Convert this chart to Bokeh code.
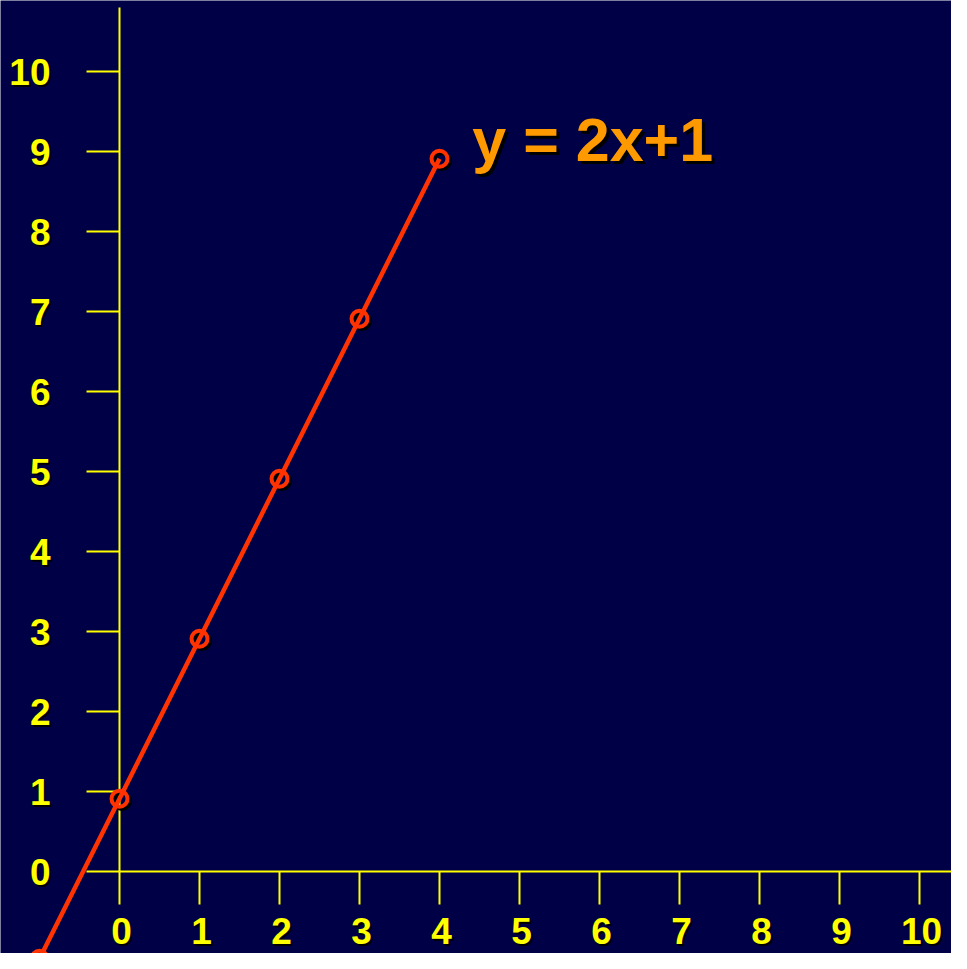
from bokeh.plotting import figure
from bokeh.models import ColumnDataSource, Range1d
from bokeh.transform import dodge
from bokeh.core.properties import value
from bokeh.embed import file_html
from bokeh.resources import INLINE

# ---- data ----
x_vals = [-1, 0, 1, 2, 3, 4]
y_vals = [-1.09, 0.91, 2.91, 4.91, 6.91, 8.91]
x_ticks = [0, 1, 2, 3, 4, 5, 6, 7, 8, 9, 10]
y_ticks = [0, 1, 2, 3, 4, 5, 6, 7, 8, 9, 10]
x_tick_labels = ["0", "1", "2", "3", "4", "5", "6", "7", "8", "9", "10"]
y_tick_labels = ["0", "1", "2", "3", "4", "5", "6", "7", "8", "9", "10"]
equation_label = ["y = 2x+1"]

BG = "#000046"
YELLOW = "#FFFF00"
RED = "#FF3300"
ORANGE = "#FF9900"
SHADOW = "#000000"
FONT = value("Liberation Sans")

p = figure(width=951, height=953,
           x_range=Range1d(-1.4875, 10.4), y_range=Range1d(-1.025, 10.8875),
           x_axis_type=None, y_axis_type=None,
           output_backend="svg", toolbar_location=None, min_border=0,
           background_fill_color=BG, border_fill_color=BG,
           outline_line_color=None)
p.grid.visible = False

# axis lines
p.segment(x0=[0], y0=[0], x1=[10.6], y1=[0], line_color=YELLOW, line_width=2)
p.segment(x0=[0], y0=[0], x1=[0], y1=[10.8], line_color=YELLOW, line_width=2)

xt = ColumnDataSource(dict(t=x_ticks, text=x_tick_labels))
yt = ColumnDataSource(dict(t=y_ticks, text=y_tick_labels))

# tick marks
p.segment(x0="t", x1="t", y0=0, y1=-0.4125, source=xt, line_color=YELLOW, line_width=2)
p.segment(y0="t", y1="t", x0=-0.4125, x1=0, source=yt, line_color=YELLOW, line_width=2)

# tick labels with shadow
for col, dx, dy in ((SHADOW, 2, 2), (YELLOW, 0, 0)):
    p.text(x=dodge("t", 0.025), y=-0.74, text="text", source=xt,
           text_color=col, text_font=FONT, text_font_style="bold",
           text_font_size="37px", text_align="center", text_baseline="alphabetic",
           x_offset=dx, y_offset=dy)
    p.text(x=-0.8625, y=dodge("t", 0.0), text="text", source=yt,
           text_color=col, text_font=FONT, text_font_style="bold",
           text_font_size="37px", text_align="right", text_baseline="alphabetic",
           x_offset=dx, y_offset=dy)

# data
pts = ColumnDataSource(dict(x=x_vals, y=y_vals))
p.scatter(x=dodge("x", 0.03), y=dodge("y", -0.03), source=pts, marker="circle",
          size=16, fill_color=None, line_color=SHADOW, line_width=4)
p.line(x="x", y="y", source=pts, line_color=RED, line_width=4.5)
p.scatter(x="x", y="y", source=pts, marker="circle", size=16,
          fill_color=None, line_color=RED, line_width=4)

# equation label
eq = ColumnDataSource(dict(text=equation_label))
for col, dx, dy in ((SHADOW, 3, 3), (ORANGE, 0, 0)):
    p.text(x=4.41, y=9.15, text="text", source=eq, text_color=col,
           text_font=FONT, text_font_style="bold", text_font_size="61px",
           text_align="left", text_baseline="alphabetic",
           x_offset=dx, y_offset=dy)

open("out.html", "w").write(file_html(p, INLINE))
